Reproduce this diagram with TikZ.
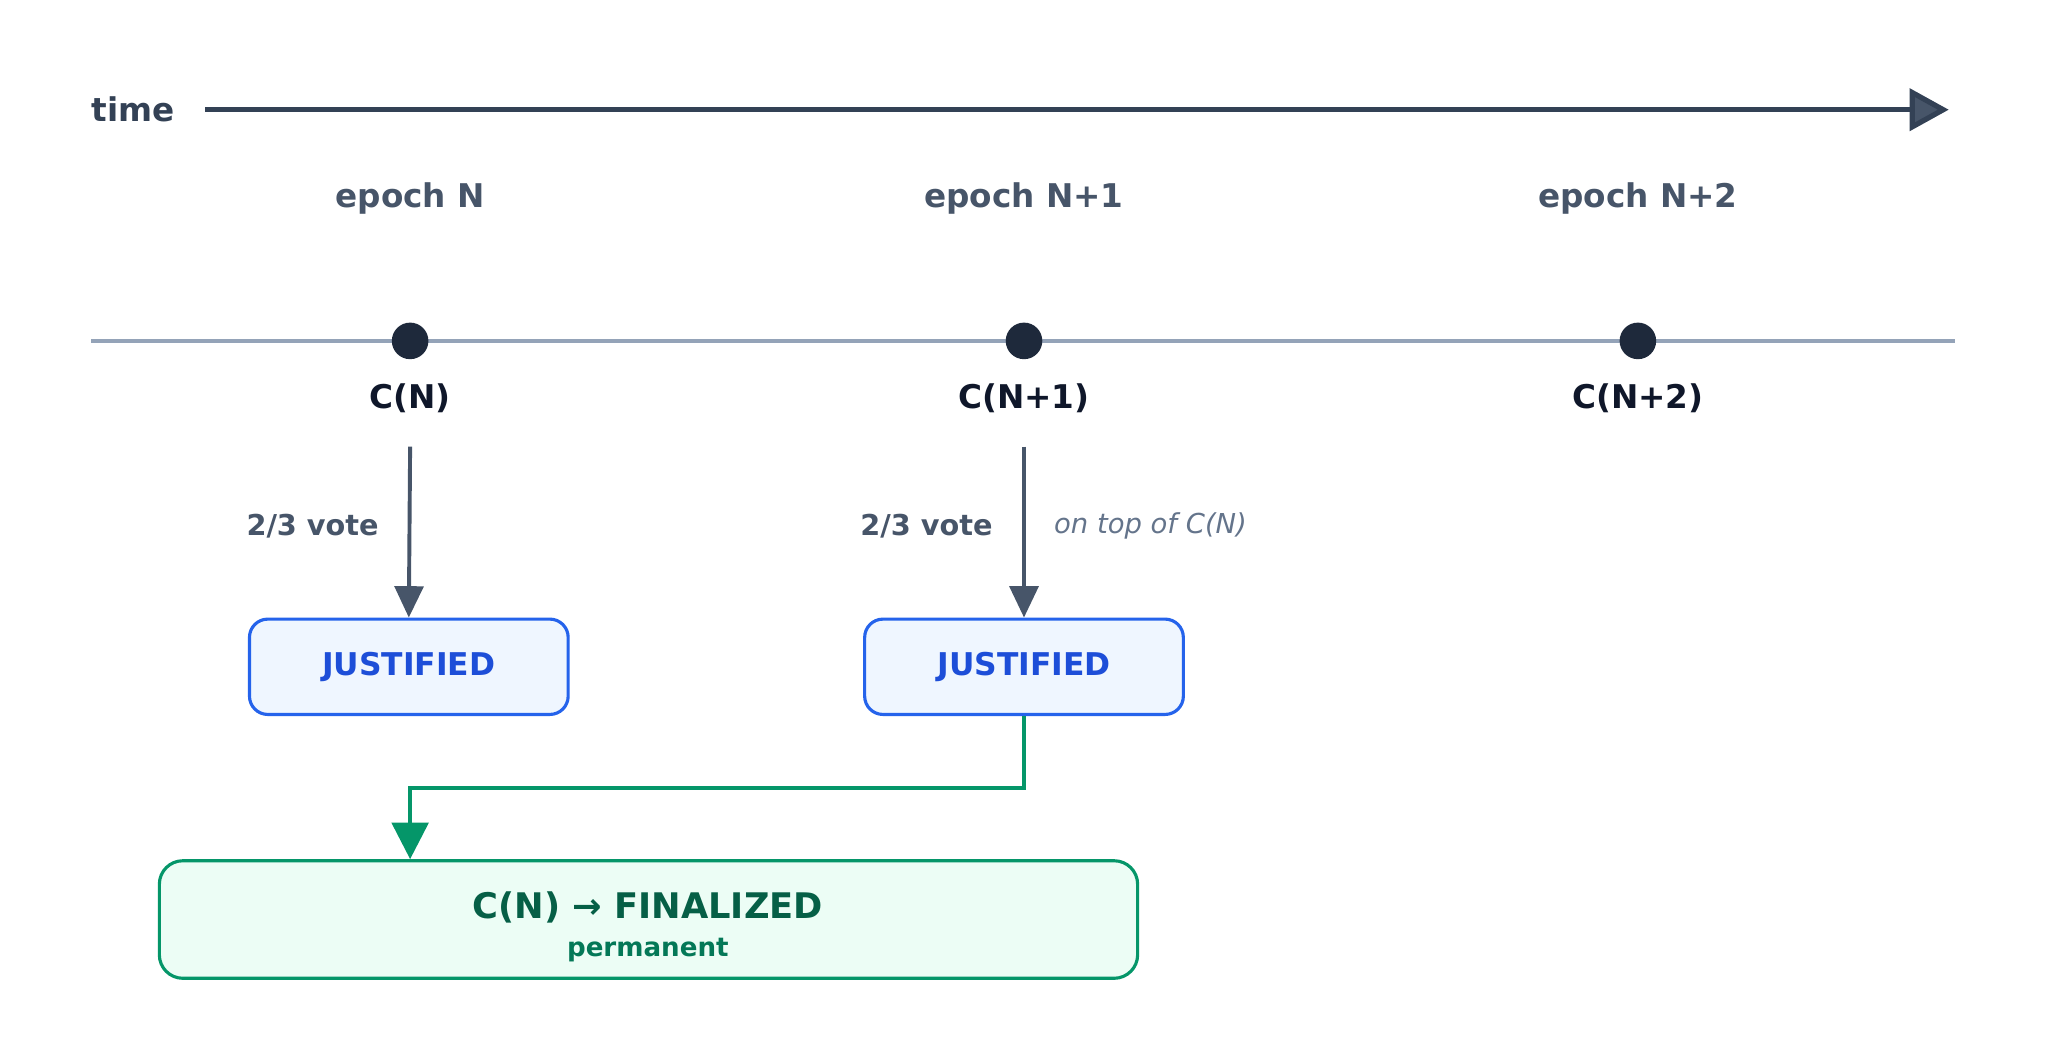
\documentclass[tikz,border=0pt]{standalone}
\usepackage{fontspec}
\setmainfont{DejaVu Sans}
\usetikzlibrary{arrows.meta}
\definecolor{axis}{HTML}{334155}
\definecolor{slate}{HTML}{475569}
\definecolor{lightl}{HTML}{94A3B8}
\definecolor{dot}{HTML}{1E293B}
\definecolor{dark}{HTML}{0F172A}
\definecolor{gray5}{HTML}{64748B}
\definecolor{blu}{HTML}{2563EB}
\definecolor{blutext}{HTML}{1D4ED8}
\definecolor{blufill}{HTML}{EFF6FF}
\definecolor{grn}{HTML}{059669}
\definecolor{grnfill}{HTML}{ECFDF5}
\definecolor{grntext}{HTML}{065F46}
\definecolor{grntext2}{HTML}{047857}
\begin{document}
\begin{tikzpicture}[x=0.5pt,y=-0.5pt,
  lbl/.style={font=\bfseries\fontsize{12.5}{15}\selectfont},
  jbox/.style={draw=blu,line width=1.2pt,fill=blufill,rounded corners=7pt,minimum width=122pt,minimum height=36.5pt,text=blutext,font=\bfseries\fontsize{12}{14}\selectfont},
  vote/.style={draw=slate,line width=1.5pt,-{Triangle[length=12pt,width=11pt]}},
  dotn/.style={circle,fill=dot,inner sep=0pt,minimum size=14pt}]
\useasboundingbox (0,0) rectangle (1568,802);
\node[lbl,text=axis] (time) at (102,84) {time};
\coordinate (ta) at (157,84); \coordinate (tb) at (1492,84);
\draw[draw=axis,line width=2pt,-{Triangle[length=15pt,width=16pt,fill=slate]}] (ta) -- (tb);
\node[lbl,text=slate] (e0) at (314,152) {epoch N};
\node[lbl,text=slate] (e1) at (784,152) {epoch N+1};
\node[lbl,text=slate] (e2) at (1254,152) {epoch N+2};
\coordinate (la) at (70,261); \coordinate (lb) at (1497,261);
\draw[lightl,line width=1.5pt] (la) -- (lb);
\node[dotn] (d0) at (314,261) {};
\node[dotn] (d1) at (784,261) {};
\node[dotn] (d2) at (1254,261) {};
\node[lbl,text=dark] (c0) at (314,305) {C(N)};
\node[lbl,text=dark] (c1) at (784,305) {C(N+1)};
\node[lbl,text=dark] (c2) at (1254,305) {C(N+2)};
\node[jbox] (j0) at (313,510.5) {JUSTIFIED};
\node[jbox] (j1) at (784,510.5) {JUSTIFIED};
\coordinate (v0) at (314,342); \coordinate (v1) at (784,342);
\draw[vote] (v0) -- (j0.north);
\draw[vote] (v1) -- (j1.north);
\node[anchor=east,text=slate,font=\bfseries\fontsize{11}{13}\selectfont] (t0) at (297,403) {2/3 vote};
\node[anchor=east,text=slate,font=\bfseries\fontsize{11}{13}\selectfont] (t1) at (767,403) {2/3 vote};
\node[anchor=west,text=gray5,font=\itshape\fontsize{10.5}{13}\selectfont] (ot) at (800,403) {on top of C(N)};
\node[draw=grn,line width=1.2pt,fill=grnfill,rounded corners=9pt,minimum width=374.5pt,minimum height=45pt] (fin) at (496.5,704) {};
\node[text=grntext,font=\bfseries\fontsize{13.5}{16}\selectfont] (ft) at (496,695) {C(N) → FINALIZED};
\node[text=grntext2,font=\bfseries\fontsize{10}{12}\selectfont] (fp) at (496,727) {permanent};
\coordinate (g1) at (784,603); \coordinate (g2) at (314,603);
\draw[grn,line width=1.5pt,-{Triangle[length=14pt,width=14pt]}] (j1.south) -- (g1) -- (g2) -- (g2 |- fin.north);
\end{tikzpicture}
\end{document}
